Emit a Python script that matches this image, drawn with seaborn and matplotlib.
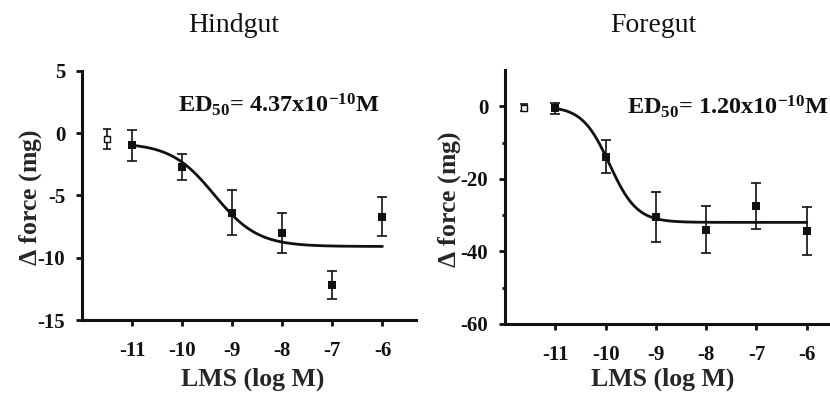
"""
LMS dose-response curves, hindgut vs foregut
"""

import numpy as np
import matplotlib
matplotlib.use('Agg')
import matplotlib.pyplot as plt
import matplotlib.ticker as ticker
import seaborn as sns

sns.set_style('ticks')
plt.rcParams['font.family'] = ['Liberation Serif', 'DejaVu Serif']
plt.rcParams['mathtext.default'] = 'regular'
plt.rcParams['axes.unicode_minus'] = False

# Data

doses = [-11, -10, -9, -8, -7, -6]
dose_ticks = [-11, -10, -9, -8, -7, -6]

hind_mean = [-1.0, -2.7, -6.4, -8.0, -12.2, -6.7]
hind_sem = [1.25, 1.05, 1.8, 1.6, 1.1, 1.55]
hind_ctrl_x = [-11.5]
hind_ctrl_mean = [-0.5]
hind_ctrl_sem = [0.8]

fore_mean = [-0.5, -13.9, -30.5, -34.0, -27.4, -34.4]
fore_sem = [1.5, 4.5, 7.0, 6.5, 6.3, 6.6]
fore_ctrl_x = [-11.63]
fore_ctrl_mean = [-0.4]
fore_ctrl_sem = [1.0]

# sigmoid fit parameters: top, bottom, ED50 (M), hill slope
hind_fit = (-0.8, -9.1, 4.37e-10, 1.0)
fore_fit = (0.0, -32.0, 1.20e-10, 1.6)

ink = '#111111'


def sigmoid(x, top, bottom, ed50, hill):
    return bottom + (top - bottom) / (1 + 10 ** ((x - np.log10(ed50)) * hill))


def draw_panel(ax, mean, sem, cx, cmean, csem, fit, ed_label, ed_pos):
    xs = np.linspace(-11, -6, 200)
    sns.lineplot(x=xs, y=sigmoid(xs, *fit), color=ink, lw=2.0, ax=ax)

    ax.errorbar(doses, mean, yerr=sem, fmt='none', ecolor=ink,
                elinewidth=1.2, capsize=3.5, capthick=1.2, zorder=3)
    ax.errorbar(cx, cmean, yerr=csem, fmt='none', ecolor=ink,
                elinewidth=1.2, capsize=3.0, capthick=1.2, zorder=3)
    sns.scatterplot(x=doses, y=mean, marker='s', s=36, color=ink,
                    edgecolor=ink, linewidth=0, ax=ax, zorder=4)
    sns.scatterplot(x=cx, y=cmean, marker='s', s=14, facecolor='white',
                    edgecolor=ink, linewidth=1.0, ax=ax, zorder=4)

    ax.set_xlim(-12, -5.33)
    ax.set_xticks(dose_ticks)
    ax.set_xticklabels([str(t) for t in dose_ticks])
    ax.set_xlabel('LMS (log M)', fontsize=18.5, fontweight='bold')
    ax.set_ylabel(r'$\Delta$ force (mg)', fontsize=18.5, fontweight='bold')

    ax.text(ed_pos[0], ed_pos[1], ed_label, transform=ax.transAxes,
            fontsize=17.5, fontweight='bold', va='center', ha='left', color=ink)

    sns.despine(ax=ax)
    for s in ['left', 'bottom']:
        ax.spines[s].set_linewidth(2.2)
        ax.spines[s].set_color(ink)
    ax.tick_params(axis='both', which='major', length=4, width=2.0,
                   labelsize=15, color=ink, labelcolor=ink)
    ax.tick_params(axis='x', which='major', pad=11)
    ax.tick_params(axis='y', which='major', pad=8)
    ax.tick_params(axis='y', which='minor', length=2.5, width=2.0, color=ink)
    for lbl in ax.get_xticklabels() + ax.get_yticklabels():
        lbl.set_fontweight('bold')


fig = plt.figure(figsize=(8.3, 3.94), dpi=100)

ax1 = fig.add_axes([0.0988, 0.1878, 0.4024, 0.6328])
ax1.set_ylim(-15, 5)
ax1.set_yticks([5, 0, -5, -10, -15])
draw_panel(ax1, hind_mean, hind_sem, hind_ctrl_x, hind_ctrl_mean, hind_ctrl_sem,
           hind_fit, r'ED$_{50}$= 4.37x10$^{-10}$M', (0.287, 0.862))
ax1.xaxis.set_label_coords(0.51, -0.19)
ax1.yaxis.set_label_coords(-0.115, 0.49)

ax2 = fig.add_axes([0.6084, 0.1777, 0.4042, 0.6447])
ax2.set_ylim(-60, 10)
ax2.set_yticks([0, -20, -40, -60])
ax2.yaxis.set_minor_locator(ticker.FixedLocator([-10, -30, -50]))
draw_panel(ax2, fore_mean, fore_sem, fore_ctrl_x, fore_ctrl_mean, fore_ctrl_sem,
           fore_fit, r'ED$_{50}$= 1.20x10$^{-10}$M', (0.364, 0.855))
ax2.xaxis.set_label_coords(0.47, -0.17)
ax2.yaxis.set_label_coords(-0.125, 0.49)

# panel titles
fig.text(234 / 830, 1 - 25 / 394, 'Hindgut', fontsize=20, ha='center', va='center', color=ink)
fig.text(653 / 830, 1 - 25 / 394, 'Foregut', fontsize=20, ha='center', va='center', color=ink)

fig.savefig('out.png', dpi=100)
